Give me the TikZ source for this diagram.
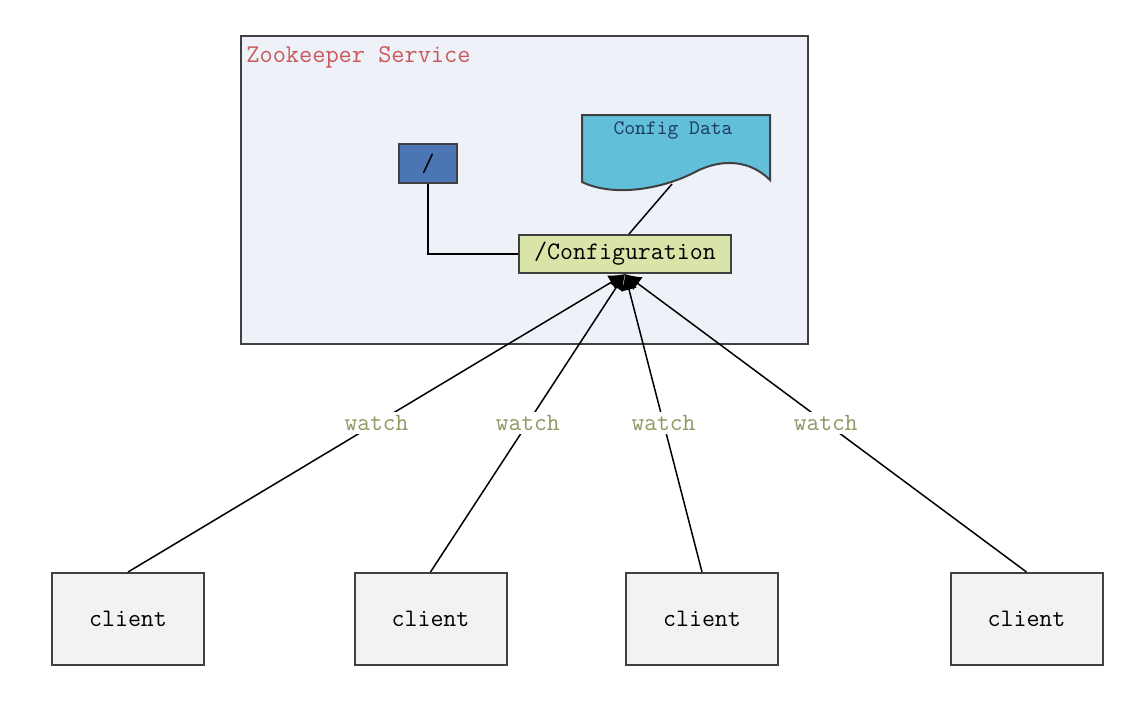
\documentclass[tikz,border=0pt]{standalone}
\usetikzlibrary{arrows.meta}
\definecolor{svcfill}{HTML}{EEF1F7}
\definecolor{titlered}{HTML}{C8585A}
\definecolor{rootblue}{HTML}{4B75B3}
\definecolor{datacyan}{HTML}{62BFDA}
\definecolor{datanavy}{HTML}{1F3A60}
\definecolor{cfgfill}{HTML}{D8E4A8}
\definecolor{clientfill}{HTML}{F2F2F2}
\definecolor{watchgreen}{HTML}{8C9A62}
\begin{document}
\begin{tikzpicture}[x=0.5pt,y=-0.5pt,
    box/.style={draw=black!75,line width=1pt,inner sep=0pt,
      font=\ttfamily\fontsize{12.6}{14}\selectfont},
    watch/.style={fill=white,text=watchgreen,inner sep=1.5pt,
      font=\ttfamily\fontsize{12.4}{14}\selectfont},
    ->,>={Latex[length=8pt,width=8pt]},line width=0.75pt]
  \useasboundingbox (0,0) rectangle (1145,709);
  \fill[white] (0,0) rectangle (1145,709);
  % service
  \node[box,fill=svcfill,minimum width=283.5pt,minimum height=154pt] (Svc) at (524.5,190) {};
  \node[anchor=west,text=titlered,font=\ttfamily\fontsize{12.8}{14}\selectfont] (Title) at (239,57) {Zookeeper Service};
  \node[box,fill=rootblue,minimum width=29pt,minimum height=19.5pt] (Root) at (428,163.5) {/};
  \node[box,fill=cfgfill,minimum width=106pt,minimum height=19pt] (Cfg) at (625,254) {/Configuration};
  % config data
  \draw[-,draw=black!75,line width=1pt,fill=datacyan] (582,115) -- (770,115) -- (770,180)
    .. controls (750,160) and (722,158) .. (695,172)
    .. controls (665,188) and (615,198) .. (582,182) -- cycle;
  \node[text=datanavy,font=\ttfamily\fontsize{10.3}{12}\selectfont] (Data) at (673,130) {Config Data};
  \coordinate (DataBot) at (672,184);
  \draw[-] (DataBot) -- ([xshift=2pt]Cfg.north);
  \draw[-] (Root.south) |- (Cfg.west);
  % clients
  \node[box,fill=clientfill,minimum width=76pt,minimum height=46pt] (K1) at (128,619) {client};
  \node[box,fill=clientfill,minimum width=76pt,minimum height=46pt] (K2) at (430.5,619) {client};
  \node[box,fill=clientfill,minimum width=76pt,minimum height=46pt] (K3) at (702,619) {client};
  \node[box,fill=clientfill,minimum width=76pt,minimum height=46pt] (K4) at (1026.5,619) {client};
  \draw (K1.north) -- node[watch,pos=0.5] {watch} (Cfg.south);
  \draw (K2.north) -- node[watch,pos=0.5] {watch} (Cfg.south);
  \draw (K3.north) -- node[watch,pos=0.5] {watch} (Cfg.south);
  \draw (K4.north) -- node[watch,pos=0.5] {watch} (Cfg.south);
\end{tikzpicture}
\end{document}
